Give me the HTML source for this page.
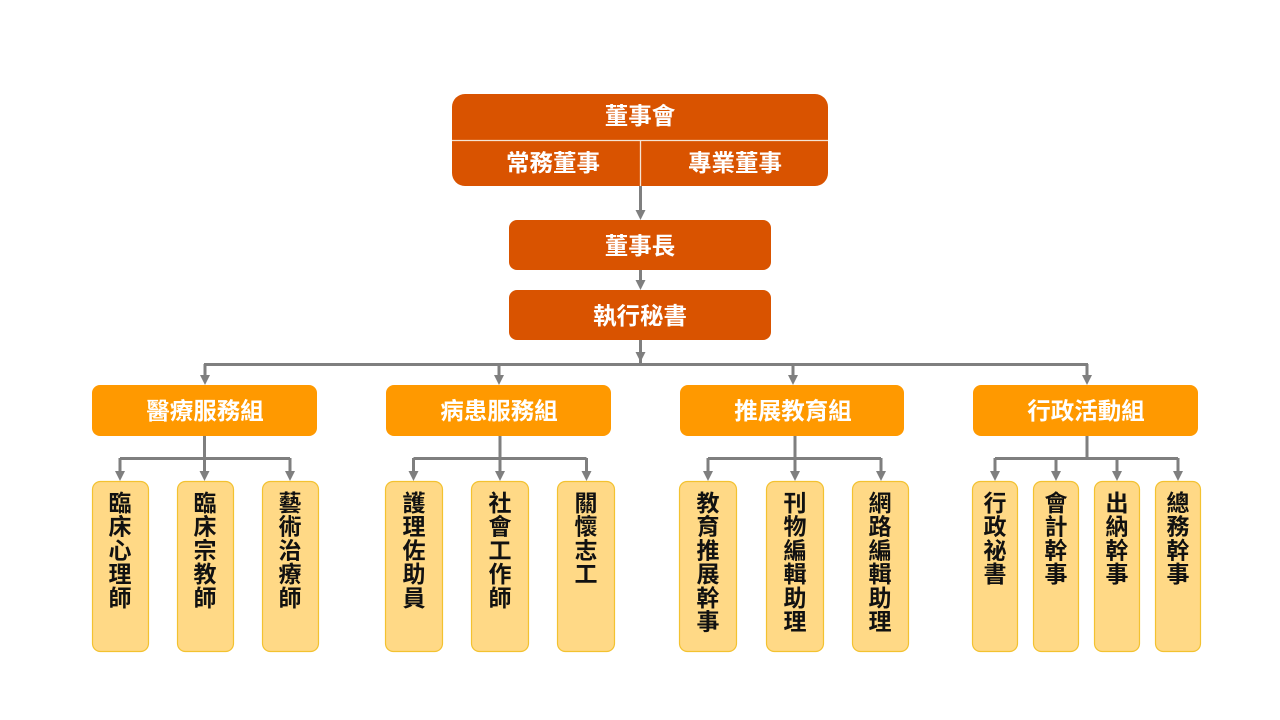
<!DOCTYPE html>
<html><head><meta charset="utf-8">
<style>
html,body{margin:0;padding:0;background:#fff;}
svg{display:block;}
text{font-family:"Liberation Sans","Noto Sans CJK TC","Noto Sans CJK SC",sans-serif;font-weight:bold;}
</style></head>
<body>
<svg width="1280" height="720" viewBox="0 0 1280 720" xmlns="http://www.w3.org/2000/svg">
<defs>
<g id="ah"><polygon points="-5,-10 5,-10 0,0" fill="#7f7f7f"/></g>
</defs>
<!-- top board -->
<rect x="452" y="94" width="376" height="92" rx="13" fill="#d95300"/>
<line x1="452" y1="140.5" x2="828" y2="140.5" stroke="#f6e3d2" stroke-width="1.3"/>
<line x1="640.5" y1="141" x2="640.5" y2="186" stroke="#f6e3d2" stroke-width="1.3"/>
<text x="640" y="124" font-size="23.5" fill="#fff" text-anchor="middle">董事會</text>
<text x="553" y="171" font-size="23.5" fill="#fff" text-anchor="middle">常務董事</text>
<text x="735" y="171" font-size="23.5" fill="#fff" text-anchor="middle">專業董事</text>

<!-- arrows top -->
<g stroke="#7f7f7f" stroke-width="3" fill="none">
<line x1="640.5" y1="186" x2="640.5" y2="211"/>
<line x1="640.5" y1="270" x2="640.5" y2="281"/>
<line x1="640.5" y1="340" x2="640.5" y2="364"/>
<line x1="204" y1="364.5" x2="1088" y2="364.5"/>
<line x1="205" y1="364" x2="205" y2="376"/>
<line x1="499" y1="364" x2="499" y2="376"/>
<line x1="793" y1="364" x2="793" y2="376"/>
<line x1="1087" y1="364" x2="1087" y2="376"/>
</g>
<use href="#ah" x="640.5" y="220"/>
<use href="#ah" x="640.5" y="290"/>
<use href="#ah" x="640.5" y="362"/>
<use href="#ah" x="205" y="385"/>
<use href="#ah" x="499" y="385"/>
<use href="#ah" x="793" y="385"/>
<use href="#ah" x="1087" y="385"/>

<rect x="509" y="220" width="262" height="50" rx="8" fill="#d95300"/>
<text x="640" y="254" font-size="23.5" fill="#fff" text-anchor="middle">董事長</text>
<rect x="509" y="290" width="262" height="50" rx="8" fill="#d95300"/>
<text x="640" y="324" font-size="23.5" fill="#fff" text-anchor="middle">執行秘書</text>

<!-- groups -->
<g fill="#ff9900">
<rect x="92" y="385" width="225" height="51" rx="8"/>
<rect x="386" y="385" width="225" height="51" rx="8"/>
<rect x="680" y="385" width="224" height="51" rx="8"/>
<rect x="973" y="385" width="225" height="51" rx="8"/>
</g>
<g font-size="23.5" fill="#fff" text-anchor="middle">
<text x="205" y="419">醫療服務組</text>
<text x="499" y="419">病患服務組</text>
<text x="793" y="419">推展教育組</text>
<text x="1086" y="419">行政活動組</text>
</g>

<!-- group connectors -->
<g stroke="#7f7f7f" stroke-width="3" fill="none">
<line x1="204.5" y1="436" x2="204.5" y2="458"/>
<line x1="120" y1="458.5" x2="290" y2="458.5"/>
<line x1="120" y1="458" x2="120" y2="472"/>
<line x1="204.5" y1="458" x2="204.5" y2="472"/>
<line x1="290" y1="458" x2="290" y2="472"/>

<line x1="500" y1="436" x2="500" y2="458"/>
<line x1="413.5" y1="458.5" x2="586.5" y2="458.5"/>
<line x1="413.5" y1="458" x2="413.5" y2="472"/>
<line x1="500" y1="458" x2="500" y2="472"/>
<line x1="586.5" y1="458" x2="586.5" y2="472"/>

<line x1="795" y1="436" x2="795" y2="458"/>
<line x1="708" y1="458.5" x2="881" y2="458.5"/>
<line x1="708" y1="458" x2="708" y2="472"/>
<line x1="795" y1="458" x2="795" y2="472"/>
<line x1="881" y1="458" x2="881" y2="472"/>

<line x1="1087" y1="436" x2="1087" y2="458"/>
<line x1="995" y1="458.5" x2="1178" y2="458.5"/>
<line x1="995" y1="458" x2="995" y2="472"/>
<line x1="1056" y1="458" x2="1056" y2="472"/>
<line x1="1117" y1="458" x2="1117" y2="472"/>
<line x1="1178" y1="458" x2="1178" y2="472"/>
</g>
<use href="#ah" x="120" y="481"/><use href="#ah" x="204.5" y="481"/><use href="#ah" x="290" y="481"/>
<use href="#ah" x="413.5" y="481"/><use href="#ah" x="500" y="481"/><use href="#ah" x="586.5" y="481"/>
<use href="#ah" x="708" y="481"/><use href="#ah" x="795" y="481"/><use href="#ah" x="881" y="481"/>
<use href="#ah" x="995" y="481"/><use href="#ah" x="1056" y="481"/><use href="#ah" x="1117" y="481"/><use href="#ah" x="1178" y="481"/>

<!-- children -->
<g fill="#ffd986" stroke="#f3c230" stroke-width="1.2">
<rect x="92.5" y="481.5" width="56" height="170" rx="8"/>
<rect x="177.5" y="481.5" width="56" height="170" rx="8"/>
<rect x="262.5" y="481.5" width="56" height="170" rx="8"/>
<rect x="385.5" y="481.5" width="57" height="170" rx="8"/>
<rect x="471.5" y="481.5" width="57" height="170" rx="8"/>
<rect x="557.5" y="481.5" width="57" height="170" rx="8"/>
<rect x="679.5" y="481.5" width="57" height="170" rx="8"/>
<rect x="766.5" y="481.5" width="57" height="170" rx="8"/>
<rect x="852.5" y="481.5" width="56" height="170" rx="8"/>
<rect x="972.5" y="481.5" width="45" height="170" rx="8"/>
<rect x="1033.5" y="481.5" width="45" height="170" rx="8"/>
<rect x="1094.5" y="481.5" width="45" height="170" rx="8"/>
<rect x="1155.5" y="481.5" width="45" height="170" rx="8"/>
</g>

<g font-size="23" fill="#111" text-anchor="middle">
<text x="120" y="511"><tspan x="120" dy="0">臨</tspan><tspan x="120" dy="23.7">床</tspan><tspan x="120" dy="23.7">心</tspan><tspan x="120" dy="23.7">理</tspan><tspan x="120" dy="23.7">師</tspan></text>
<text x="205" y="511"><tspan x="205" dy="0">臨</tspan><tspan x="205" dy="23.7">床</tspan><tspan x="205" dy="23.7">宗</tspan><tspan x="205" dy="23.7">教</tspan><tspan x="205" dy="23.7">師</tspan></text>
<text x="290" y="511"><tspan x="290" dy="0">藝</tspan><tspan x="290" dy="23.7">術</tspan><tspan x="290" dy="23.7">治</tspan><tspan x="290" dy="23.7">療</tspan><tspan x="290" dy="23.7">師</tspan></text>

<text x="414" y="511"><tspan x="414" dy="0">護</tspan><tspan x="414" dy="23.7">理</tspan><tspan x="414" dy="23.7">佐</tspan><tspan x="414" dy="23.7">助</tspan><tspan x="414" dy="23.7">員</tspan></text>
<text x="500" y="511"><tspan x="500" dy="0">社</tspan><tspan x="500" dy="23.7">會</tspan><tspan x="500" dy="23.7">工</tspan><tspan x="500" dy="23.7">作</tspan><tspan x="500" dy="23.7">師</tspan></text>
<text x="586" y="511"><tspan x="586" dy="0">關</tspan><tspan x="586" dy="23.7">懷</tspan><tspan x="586" dy="23.7">志</tspan><tspan x="586" dy="23.7">工</tspan></text>

<text x="708" y="511"><tspan x="708" dy="0">教</tspan><tspan x="708" dy="23.7">育</tspan><tspan x="708" dy="23.7">推</tspan><tspan x="708" dy="23.7">展</tspan><tspan x="708" dy="23.7">幹</tspan><tspan x="708" dy="23.7">事</tspan></text>
<text x="795" y="511"><tspan x="795" dy="0">刊</tspan><tspan x="795" dy="23.7">物</tspan><tspan x="795" dy="23.7">編</tspan><tspan x="795" dy="23.7">輯</tspan><tspan x="795" dy="23.7">助</tspan><tspan x="795" dy="23.7">理</tspan></text>
<text x="880" y="511"><tspan x="880" dy="0">網</tspan><tspan x="880" dy="23.7">路</tspan><tspan x="880" dy="23.7">編</tspan><tspan x="880" dy="23.7">輯</tspan><tspan x="880" dy="23.7">助</tspan><tspan x="880" dy="23.7">理</tspan></text>

<text x="995" y="511"><tspan x="995" dy="0">行</tspan><tspan x="995" dy="23.7">政</tspan><tspan x="995" dy="23.7">祕</tspan><tspan x="995" dy="23.7">書</tspan></text>
<text x="1056" y="511"><tspan x="1056" dy="0">會</tspan><tspan x="1056" dy="23.7">計</tspan><tspan x="1056" dy="23.7">幹</tspan><tspan x="1056" dy="23.7">事</tspan></text>
<text x="1117" y="511"><tspan x="1117" dy="0">出</tspan><tspan x="1117" dy="23.7">納</tspan><tspan x="1117" dy="23.7">幹</tspan><tspan x="1117" dy="23.7">事</tspan></text>
<text x="1178" y="511"><tspan x="1178" dy="0">總</tspan><tspan x="1178" dy="23.7">務</tspan><tspan x="1178" dy="23.7">幹</tspan><tspan x="1178" dy="23.7">事</tspan></text>
</g>
</svg>
</body></html>
